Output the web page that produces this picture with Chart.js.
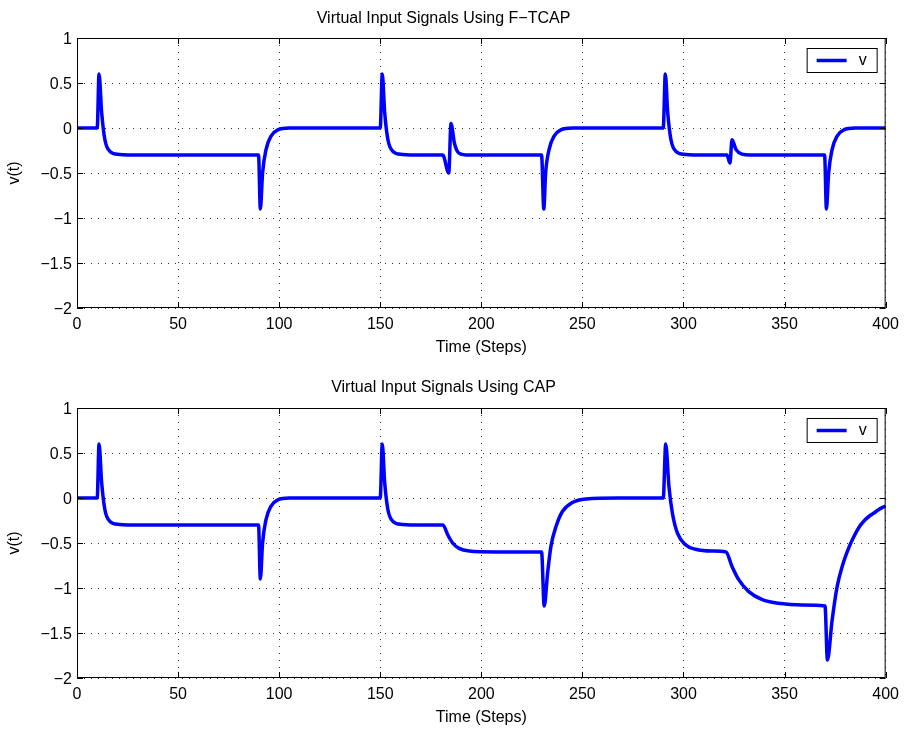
<!DOCTYPE html>
<html lang="en">
<head>
  <meta charset="UTF-8">
  <title>Virtual Input Signals</title>
  <script src="https://cdn.jsdelivr.net/npm/chart.js"></script>
  <style>
    body { margin: 0; background: #fff; }
    .plot { width: 906px; height: 364px; position: relative; }
    .plot.second { height: 365px; }
  </style>
</head>
<body>
  <div class="plot"><canvas id="topChart" width="906" height="364"></canvas></div>
  <div class="plot second"><canvas id="bottomChart" width="906" height="365"></canvas></div>

  <script>
    // tick labels
    const xTicks = [0, 50, 100, 150, 200, 250, 300, 350, 400];
    const yTicks = [1, 0.5, 0, -0.5, -1, -1.5, -2];

    // F-TCAP series
    const stepsTop = [0, 10, 10.9, 12.2, 13.8, 16.3, 21, 25,
      89.8, 90.7, 91.8, 93.5, 96, 99.3, 105,
      150, 151, 152.2, 153.8, 156.3, 161, 165,
      180.9, 183.9, 185, 186.7, 189, 194,
      229.8, 230.9, 231.8, 233.5, 236, 239.3, 245,
      290, 291, 292.2, 293.8, 296.3, 301, 305,
      321.5, 323, 324, 326, 329, 333,
      369.8, 370.7, 371.8, 373.5, 376, 379.3, 385, 400];
    const vTop = [0, 0, 0.6, 0.17, -0.13, -0.26, -0.295, -0.3,
      -0.3, -0.9, -0.5, -0.24, -0.09, -0.02, 0,
      0, 0.6, 0.17, -0.13, -0.26, -0.295, -0.3,
      -0.3, -0.5, 0.05, -0.17, -0.28, -0.3,
      -0.3, -0.9, -0.5, -0.24, -0.09, -0.02, 0,
      0, 0.6, 0.17, -0.13, -0.26, -0.295, -0.3,
      -0.3, -0.39, -0.13, -0.24, -0.29, -0.3,
      -0.3, -0.9, -0.5, -0.24, -0.09, -0.02, 0, 0];

    // CAP series
    const stepsBottom = [0, 10, 10.9, 12.2, 13.8, 16.3, 21, 25,
      89.8, 90.7, 91.8, 93.5, 96, 99.3, 105,
      150, 151, 152.2, 153.8, 156.3, 161, 165,
      181, 183.4, 185.8, 189, 194, 207,
      229.8, 231.1, 232.8, 234.4, 236.9, 240.1, 245, 251.7, 268,
      290, 291.2, 292.8, 294.5, 297, 301, 306, 314,
      321, 324, 327.4, 332.3, 339, 347, 358.6,
      370, 371.2, 373.5, 376, 378.5, 382, 384.5, 387, 389.5, 392, 394, 396.5, 398, 400];
    const vBottom = [0, 0, 0.6, 0.17, -0.13, -0.26, -0.295, -0.3,
      -0.3, -0.9, -0.5, -0.24, -0.09, -0.02, 0,
      0, 0.6, 0.17, -0.13, -0.26, -0.295, -0.3,
      -0.3, -0.41, -0.5, -0.56, -0.59, -0.6,
      -0.6, -1.2, -0.83, -0.54, -0.32, -0.15, -0.05, -0.01, 0,
      0, 0.6, 0.13, -0.167, -0.39, -0.52, -0.57, -0.59,
      -0.6, -0.76, -0.91, -1.04, -1.13, -1.17, -1.19,
      -1.2, -1.8, -1.36, -0.985, -0.76, -0.54, -0.42, -0.32, -0.25, -0.2, -0.17, -0.13, -0.11, -0.09];

    const FONT = "'Liberation Sans', Arial, sans-serif";
    const minus = v => v < 0 ? '\u2212' + Math.abs(v) : String(v);

    // box round the axes plus inward tick marks, like the original
    const framePlugin = {
      id: 'frame',
      afterDatasetsDraw(chart) {
        const { ctx, chartArea: a, scales } = chart;
        ctx.save();
        ctx.strokeStyle = '#000';
        ctx.lineWidth = 1;
        ctx.strokeRect(a.left + 0.5, a.top + 0.5, a.right - a.left - 1, a.bottom - a.top - 1);
        ctx.beginPath();
        xTicks.forEach(t => {
          const px = Math.round(scales.x.getPixelForValue(t)) + 0.5;
          ctx.moveTo(px, a.bottom); ctx.lineTo(px, a.bottom - 6);
          ctx.moveTo(px, a.top); ctx.lineTo(px, a.top + 6);
        });
        yTicks.forEach(t => {
          const py = Math.round(scales.y.getPixelForValue(t)) + 0.5;
          ctx.moveTo(a.left, py); ctx.lineTo(a.left + 6, py);
          ctx.moveTo(a.right, py); ctx.lineTo(a.right - 6, py);
        });
        ctx.stroke();

        // legend box in the upper right corner
        const ds = chart.data.datasets[0];
        const bx = a.right - 79, by = a.top + 10;
        ctx.fillStyle = '#fff';
        ctx.fillRect(bx, by, 70, 24);
        ctx.strokeRect(bx + 0.5, by + 0.5, 70, 24);
        ctx.strokeStyle = ds.borderColor;
        ctx.lineWidth = 3.5;
        ctx.beginPath();
        ctx.moveTo(bx + 10, by + 12.5);
        ctx.lineTo(bx + 40, by + 12.5);
        ctx.stroke();
        ctx.fillStyle = '#000';
        ctx.font = '16px ' + FONT;
        ctx.textBaseline = 'middle';
        ctx.fillText(ds.label, bx + 52, by + 13);
        ctx.restore();
      }
    };

    // lay: title paddings, x axis height and x title bottom padding per panel
    function makeChart(id, titleText, steps, values, lay) {
      const points = steps.map((s, i) => ({ x: s, y: values[i] }));
      return new Chart(document.getElementById(id), {
        type: 'line',
        data: {
          datasets: [{
            label: 'v',
            data: points,
            borderColor: '#0000ff',
            borderWidth: 3.5,
            pointRadius: 0,
            fill: false,
            cubicInterpolationMode: 'monotone'
          }]
        },
        options: {
          responsive: false,
          animation: false,
          layout: { padding: { right: 19, left: 0, top: 0, bottom: 0 } },
          plugins: {
            legend: { display: false },
            tooltip: { enabled: false },
            title: {
              display: true,
              text: titleText,
              color: '#000',
              font: { family: FONT, size: 16, weight: 'normal' },
              padding: { top: lay.tTop, bottom: lay.tBottom }
            }
          },
          scales: {
            x: {
              type: 'linear',
              min: 0, max: 400,
              afterBuildTicks: s => { s.ticks = xTicks.map(v => ({ value: v })); },
              afterFit: s => { s.height = lay.xHeight; },
              ticks: { color: '#000', font: { family: FONT, size: 16 }, padding: 7, maxRotation: 0 },
              grid: { color: '#333', lineWidth: 1, drawTicks: false },
              border: { display: false, dash: [1, 6] },
              title: {
                display: true, text: 'Time (Steps)', color: '#000',
                font: { family: FONT, size: 16 }, padding: { top: 0, bottom: lay.xTitle }
              }
            },
            y: {
              min: -2, max: 1,
              afterBuildTicks: s => { s.ticks = yTicks.map(v => ({ value: v })); },
              afterFit: s => { s.width = 77; },
              ticks: { color: '#000', font: { family: FONT, size: 16 }, padding: 5, labelOffset: 2, callback: v => minus(v) },
              grid: { color: '#333', lineWidth: 1, drawTicks: false },
              border: { display: false, dash: [1, 6] },
              title: {
                display: true, text: 'v(t)', color: '#000',
                font: { family: FONT, size: 16 }, padding: { top: 5, bottom: 0 }
              }
            }
          }
        },
        plugins: [framePlugin]
      });
    }

    makeChart('topChart', 'Virtual Input Signals Using F\u2212TCAP', stepsTop, vTop,
      { tTop: 9.4, tBottom: 9.4, xHeight: 56, xTitle: 7 });
    makeChart('bottomChart', 'Virtual Input Signals Using CAP', stepsBottom, vBottom,
      { tTop: 14.4, tBottom: 10.4, xHeight: 51, xTitle: 1.4 });
  </script>
</body>
</html>
